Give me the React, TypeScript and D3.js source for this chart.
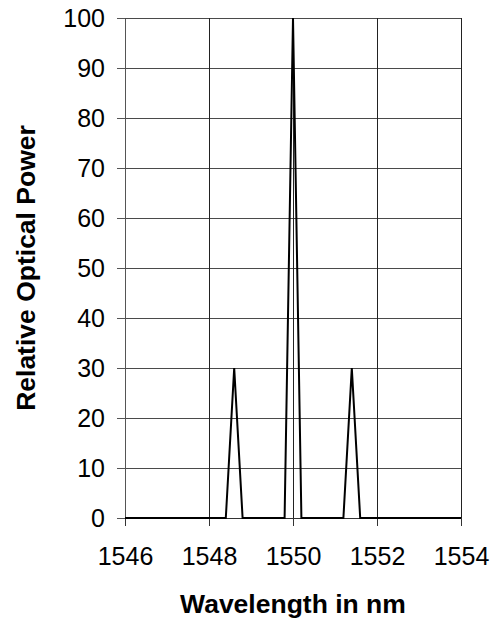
import { useEffect, useRef } from 'react'
import * as d3 from 'd3'

// wavelength (nm) and relative optical power
const wavelengths = [1546, 1548.4, 1548.6, 1548.8, 1549.8, 1550, 1550.2, 1551.2, 1551.4, 1551.6, 1554]
const powers = [0, 0, 30, 0, 0, 100, 0, 0, 30, 0, 0]
const xTicks = [1546, 1548, 1550, 1552, 1554]
const yTicks = [0, 10, 20, 30, 40, 50, 60, 70, 80, 90, 100]

const W = 502
const H = 622
const FONT = 'Liberation Sans, Arial, sans-serif'

export default function App() {
  const svgRef = useRef<SVGSVGElement>(null)

  useEffect(() => {
    if (!svgRef.current) return
    const margin = { top: 18, right: 41, bottom: 104, left: 125 }
    const width = W - margin.left - margin.right
    const height = H - margin.top - margin.bottom

    d3.select(svgRef.current).selectAll('*').remove()
    const svg = d3
      .select(svgRef.current)
      .append('g')
      .attr('transform', `translate(${margin.left},${margin.top})`)

    const x = d3.scaleLinear().domain([1546, 1554]).range([0, width])
    const y = d3.scaleLinear().domain([0, 100]).range([height, 0])

    // horizontal grid
    svg
      .append('g')
      .selectAll('line')
      .data(yTicks)
      .join('line')
      .attr('x1', 0)
      .attr('x2', width)
      .attr('y1', (d) => y(d) + 0.5)
      .attr('y2', (d) => y(d) + 0.5)
      .attr('stroke', '#4a4a4a')
      .attr('stroke-width', 1)

    // vertical grid
    svg
      .append('g')
      .selectAll('line')
      .data(xTicks)
      .join('line')
      .attr('x1', (d) => x(d) + 0.5)
      .attr('x2', (d) => x(d) + 0.5)
      .attr('y1', 0)
      .attr('y2', height)
      .attr('stroke', '#222')
      .attr('stroke-width', 1)

    // axes
    svg
      .append('g')
      .attr('transform', `translate(0,${height})`)
      .call(d3.axisBottom(x).tickValues(xTicks).tickSize(8).tickPadding(21).tickFormat((d) => `${d}`))
      .call((g) => g.select('.domain').attr('stroke', '#333'))
      .call((g) => g.selectAll('.tick line').attr('stroke', '#333'))
      .call((g) =>
        g
          .selectAll('.tick text')
          .attr('fill', '#000')
          .attr('font-size', '25px')
          .attr('font-family', FONT)
      )

    svg
      .append('g')
      .call(d3.axisLeft(y).tickValues(yTicks).tickSize(8).tickPadding(12))
      .call((g) => g.select('.domain').attr('stroke', '#555'))
      .call((g) => g.selectAll('.tick line').attr('stroke', '#555'))
      .call((g) =>
        g
          .selectAll('.tick text')
          .attr('fill', '#000')
          .attr('font-size', '25px')
          .attr('font-family', FONT)
      )

    // titles
    svg
      .append('text')
      .attr('x', width / 2)
      .attr('y', height + 95)
      .attr('text-anchor', 'middle')
      .attr('font-size', '26.5px')
      .attr('font-weight', 'bold')
      .attr('font-family', FONT)
      .text('Wavelength in nm')

    svg
      .append('text')
      .attr('transform', 'rotate(-90)')
      .attr('x', -height / 2)
      .attr('y', -90)
      .attr('text-anchor', 'middle')
      .attr('font-size', '26.5px')
      .attr('font-weight', 'bold')
      .attr('font-family', FONT)
      .text('Relative Optical Power')

    // spectrum line
    const data = wavelengths.map((w, i) => ({ w, p: powers[i] }))
    const line = d3
      .line<{ w: number; p: number }>()
      .x((d) => x(d.w))
      .y((d) => y(d.p))

    svg
      .append('path')
      .datum(data)
      .attr('fill', 'none')
      .attr('stroke', '#000')
      .attr('stroke-width', 2)
      .attr('d', line)
  }, [])

  return (
    <svg
      ref={svgRef}
      width={W}
      height={H}
      style={{ position: 'absolute', left: 0, top: 0, background: '#fff' }}
    />
  )
}
